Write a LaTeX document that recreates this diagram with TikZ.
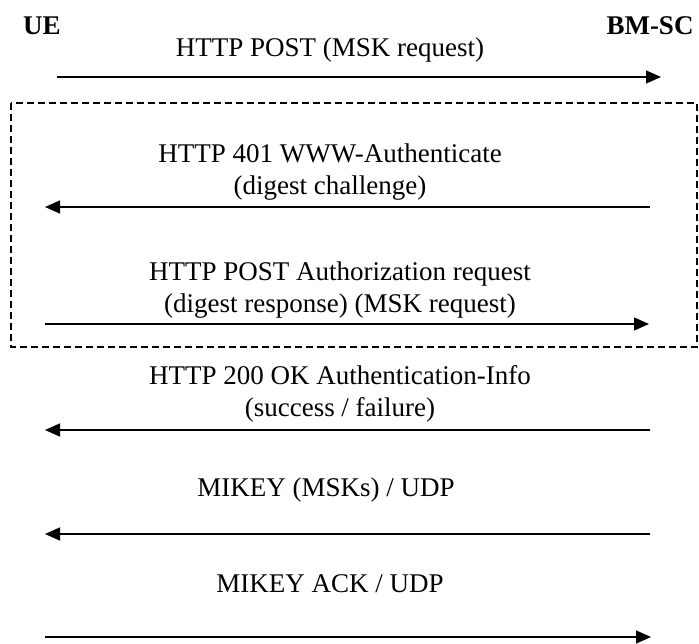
\documentclass[tikz,border=0pt]{standalone}
\usepackage{fontspec}
\setmainfont{Liberation Serif}
\usetikzlibrary{arrows.meta}
\tikzset{
  msg/.style={line width=1.4pt, -{Triangle[length=15pt,width=13pt]}},
  lbl/.style={font=\fontsize{27}{32}\selectfont, align=center, anchor=base, inner sep=0pt},
  party/.style={font=\fontsize{27}{33}\selectfont\bfseries, anchor=base, inner sep=0pt},
  grp/.style={draw, line width=1.6pt, dash pattern=on 7pt off 4pt}
}
\begin{document}
\begin{tikzpicture}[x=1pt,y=-1pt]
\useasboundingbox (0,0) rectangle (699,643);
% parties
\node[party] (ue) at (42,34) {UE};
\node[party] (bm) at (650,34) {BM-SC};
% group box
\draw[grp] (11,103) rectangle (697,347);
% arrow endpoints
\coordinate (a1s) at (57,77);   \coordinate (a1e) at (661,77);
\coordinate (a2s) at (650,207); \coordinate (a2e) at (45,207);
\coordinate (a3s) at (45,324);  \coordinate (a3e) at (649,324);
\coordinate (a4s) at (650,430); \coordinate (a4e) at (45,430);
\coordinate (a5s) at (650,534); \coordinate (a5e) at (45,534);
\coordinate (a6s) at (45,637);  \coordinate (a6e) at (651,637);
% messages
\draw[msg] (a1s) -- (a1e);
\draw[msg] (a2s) -- (a2e);
\draw[msg] (a3s) -- (a3e);
\draw[msg] (a4s) -- (a4e);
\draw[msg] (a5s) -- (a5e);
\draw[msg] (a6s) -- (a6e);
% labels
\node[lbl] (t1) at (330,56) {HTTP POST (MSK request)};
\node[lbl] (t2) at (330,194) {HTTP 401 WWW-Authenticate\\(digest challenge)};
\node[lbl] (t3) at (340,312) {HTTP POST Authorization request\\(digest response) (MSK request)};
\node[lbl] (t4) at (340,416) {HTTP 200 OK Authentication-Info\\(success / failure)};
\node[lbl] (t5) at (326,496) {MIKEY (MSKs) / UDP};
\node[lbl] (t6) at (330,592) {MIKEY ACK / UDP};
\end{tikzpicture}
\end{document}
